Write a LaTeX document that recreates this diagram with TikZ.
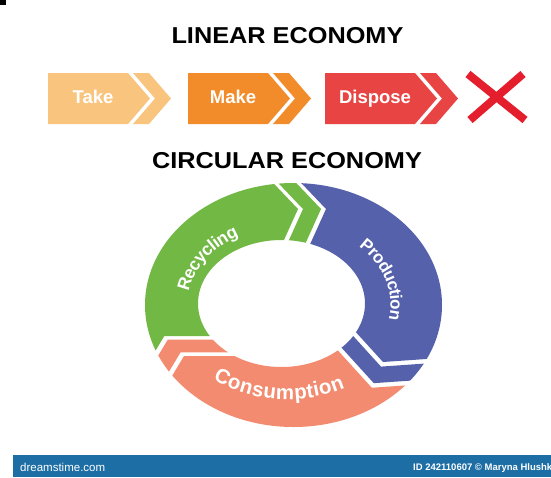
\documentclass[tikz,border=0pt]{standalone}
\usepackage{fontspec}
\setmainfont{Liberation Sans}
\usetikzlibrary{calc, decorations.text}

\definecolor{takec}{HTML}{F9C47E}
\definecolor{makec}{HTML}{F28C2A}
\definecolor{disposec}{HTML}{E84444}
\definecolor{crossc}{HTML}{E51E2D}
\definecolor{recyc}{HTML}{72B844}
\definecolor{prodc}{HTML}{5661AB}
\definecolor{consc}{HTML}{F28B6F}
\definecolor{footc}{HTML}{1C6EA4}

\newcommand{\ringpath}{(293.5,-305) ellipse[x radius=148.5pt, y radius=122pt] (281.5,-303.5) ellipse[x radius=83.5pt, y radius=63.5pt]}

\begin{document}
\begin{tikzpicture}[
  x=1pt, y=1pt,
  heading/.style={font=\fontsize{23}{26}\selectfont\bfseries, anchor=base, inner sep=0pt},
  steplbl/.style={font=\fontsize{18.5}{20}\selectfont\bfseries, text=white, anchor=base, inner sep=0pt},
  ringlbl/.style={decorate, decoration={text along path, text align=center, raise=-6pt, text={#1}}}
]

% Background
\useasboundingbox (0,0) rectangle (551,-477);
\fill[white] (0,0) rectangle (551,-477);
\fill[black] (0,0) rectangle (6,-5);

% Titles
\node[heading] (lintitle) at (287.5,-43) {\scalebox{1.1}[1]{LINEAR ECONOMY}};
\node[heading] (circtitle) at (287,-168) {\scalebox{1.1}[1]{CIRCULAR ECONOMY}};

% Linear steps
\foreach \x/\w/\c/\t [count=\i] in {48/80/takec/Take, 188/80/makec/Make, 325/90/disposec/Dispose}{
  \fill[\c] (\x,-73) -- ++(\w,0) -- ++(22,-25.5) -- ++(-22,-25.5) -- ++(-\w,0) -- cycle;
  \fill[\c] (\x+\w+5,-73) -- ++(16,0) -- ++(22,-25.5) -- ++(-22,-25.5) -- ++(-16,0) -- ++(22,25.5) -- cycle;
  \node[steplbl] (step\i) at (\x+\w/2+5,-103) {\t};
}

% Cross
\draw[crossc, line width=8pt] (468,-74) -- (525,-120) (523,-74) -- (470,-120);

% Chevron points of the cycle
\coordinate (hc) at (281,-303);
\coordinate (mc) at (287.5,-304.25);
\foreach \s/\n in {0/a, 5/b, 23/c, 28/d}{
  \coordinate (o1\n) at ($(258,-167)+(\s,0)$);
  \coordinate (t1\n) at ($(298,-209)+(\s,0)$);
  \coordinate (i1\n) at ($(275.6,-258.6)+(\s,0)$);
  \coordinate (o2\n) at ($(455,-357)+(-0.4*\s,-0.92*\s)$);
  \coordinate (t2\n) at ($(383,-362)+(-0.4*\s,-0.92*\s)$);
  \coordinate (i2\n) at ($(347,-322.4)+(-0.4*\s,-0.92*\s)$);
  \coordinate (o3\n) at ($(154,-406)+(-0.707*\s,0.707*\s)$);
  \coordinate (t3\n) at ($(184,-356)+(-0.707*\s,0.707*\s)$);
  \coordinate (i3\n) at ($(239,-356)+(-0.707*\s,0.707*\s)$);
}

% Ring pieces
\foreach \c/\poly in {
  recyc/{(o1a)--(t1a)--(i1a)--(hc)--(i3d)--(t3d)--(o3d)--(40,-400)--(40,-120)--(258,-120)},
  recyc/{(o1b)--(t1b)--(i1b)--(i1c)--(t1c)--(o1c)},
  prodc/{(o1d)--(t1d)--(i1d)--(hc)--(i2a)--(t2a)--(o2a)--(510,-357)--(510,-120)--(286,-120)},
  prodc/{(o2b)--(t2b)--(i2b)--(i2c)--(t2c)--(o2c)},
  consc/{(o2d)--(t2d)--(i2d)--(hc)--(i3a)--(t3a)--(o3a)--(150,-470)--(460,-470)},
  consc/{(o3b)--(t3b)--(i3b)--(i3c)--(t3c)--(o3c)}}{
  \begin{scope}
    \clip \poly -- cycle;
    \fill[\c, even odd rule] \ringpath;
  \end{scope}
}

% Ring labels
\path[ringlbl={|\fontsize{17.5}{18}\selectfont\bfseries\color{white}|Recycling}]
  ($(mc)+(186:106pt and 84pt)$) arc[start angle=186, end angle=106, x radius=106pt, y radius=84pt];
\path[ringlbl={|\fontsize{17}{18}\selectfont\bfseries\color{white}|Production}]
  ($(mc)+(57:109pt and 85.5pt)$) arc[start angle=57, end angle=-23, x radius=109pt, y radius=85.5pt];
\path[ringlbl={|\fontsize{20.5}{21}\selectfont\bfseries\color{white}|Consumption}]
  ($(mc)+(225:116pt and 89pt)$) arc[start angle=225, end angle=305, x radius=116pt, y radius=89pt];

% Footer
\fill[footc] (13,-455) rectangle (551,-477);
\node[anchor=base west, inner sep=0pt, text=white, font=\fontsize{11.5}{12}\selectfont] (logo) at (20,-471) {dreamstime.com};
\node[anchor=base west, inner sep=0pt, text=white, font=\fontsize{9.5}{10}\selectfont\bfseries] (imgid) at (413,-470) {ID 242110607 © Maryna Hlushko};

\end{tikzpicture}
\end{document}
